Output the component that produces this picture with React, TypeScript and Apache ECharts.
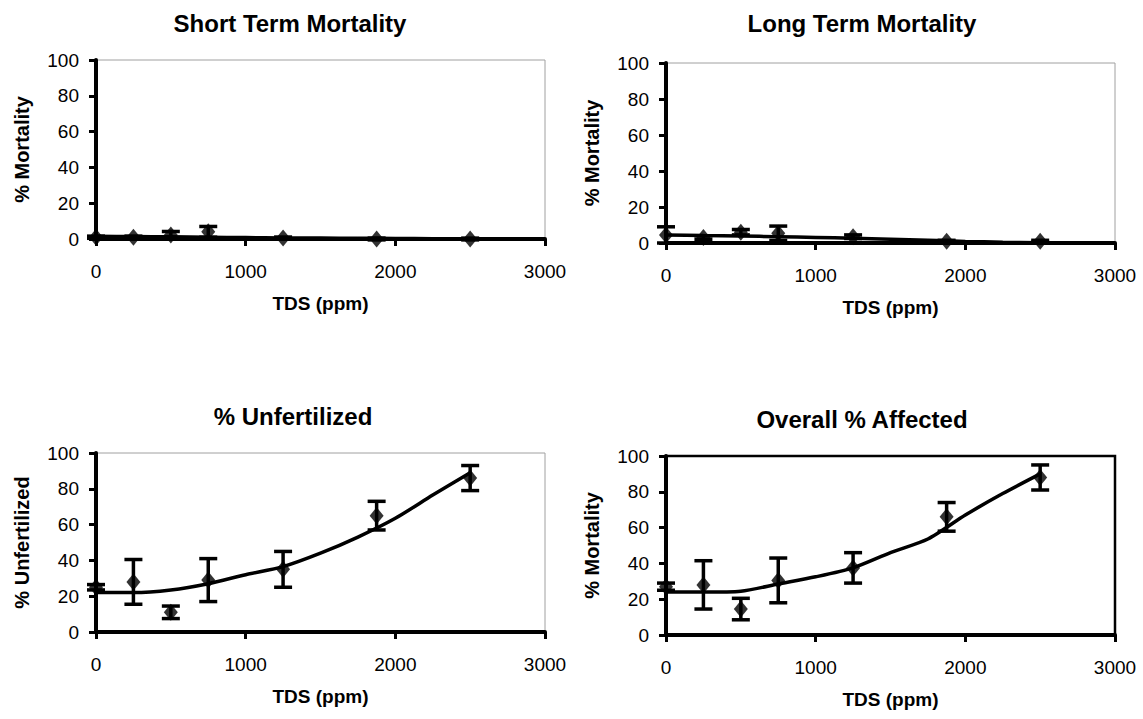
import React, { useEffect, useRef } from 'react';
import * as echarts from 'echarts';

// TDS concentrations (ppm) tested
const tdsLevels = [0, 250, 500, 750, 1250, 1875, 2500];
const trendTds = [0, 250, 500, 750, 1000, 1250, 1500, 1750, 2000, 2250, 2500];

// Short Term Mortality
const shortMean = [1, 1, 2.2, 4, 0.5, 0, 0];
const shortErr = [0.6, 0.6, 2, 3, 0.6, 0.5, 0.5];
const shortTrend = [1.5, 1.4, 1.2, 1.0, 0.8, 0.6, 0.5, 0.4, 0.3, 0.2, 0.1];

// Long Term Mortality
const longMean = [4.5, 3, 6, 5.4, 3.5, 1, 1];
const longErr = [4.5, 1, 1.5, 4, 1, 0.5, 0.5];
const longTrend = [4.5, 4.2, 3.9, 3.5, 3.1, 2.6, 2.1, 1.5, 0.9, 0.4, 0.1];

// % Unfertilized
const unfertMean = [25, 28, 11, 29, 35, 65, 86];
const unfertErr = [1.5, 12.5, 3.5, 12, 10, 8, 7];
const unfertTrend = [22, 22, 23.5, 27, 32, 36.5, 44, 53, 63.5, 76.5, 89];

// Overall % Affected
const overallMean = [27, 28, 14.5, 30.5, 37.5, 66, 88];
const overallErr = [2, 13.5, 6, 12.5, 8.5, 8, 7];
const overallTrend = [24, 24, 24.5, 28.5, 32.5, 37.5, 46, 53.6, 67, 79, 90];

const titles = ['Short Term Mortality', 'Long Term Mortality', '% Unfertilized', 'Overall % Affected'];
const yNames = ['% Mortality', '% Mortality', '% Unfertilized', '% Mortality'];
const xName = 'TDS (ppm)';

const FONT = '"Liberation Sans", Arial, sans-serif';

const App: React.FC = () => {
  const chartRef = useRef<HTMLDivElement>(null);

  useEffect(() => {
    if (!chartRef.current) return;
    const chart = echarts.init(chartRef.current, undefined, { renderer: 'svg' });

    const means = [shortMean, longMean, unfertMean, overallMean];
    const errs = [shortErr, longErr, unfertErr, overallErr];
    const trends = [shortTrend, longTrend, unfertTrend, overallTrend];

    // plot areas of the four panels
    const grids = [
      { left: 96, top: 60, width: 449, height: 179 },
      { left: 666, top: 63, width: 449, height: 180 },
      { left: 96, top: 453, width: 449, height: 179 },
      { left: 666, top: 456, width: 449, height: 179 }
    ];
    const titlePos = [
      [290, 23],
      [862, 23],
      [293, 416],
      [862, 419]
    ];

    const axisLine = { show: true, lineStyle: { color: '#000', width: 4 } };
    const axisTick = { show: true, length: 7, lineStyle: { color: '#000', width: 3 } };

    const errorBar = (params: any, api: any) => {
      const x = api.value(0);
      const top = api.coord([x, api.value(2)]);
      const bot = api.coord([x, api.value(1)]);
      const hw = 9;
      const style = { stroke: '#000', lineWidth: 3.5 };
      return {
        type: 'group',
        children: [
          { type: 'line', shape: { x1: top[0], y1: top[1], x2: bot[0], y2: bot[1] }, style },
          { type: 'line', shape: { x1: top[0] - hw, y1: top[1], x2: top[0] + hw, y2: top[1] }, style },
          { type: 'line', shape: { x1: bot[0] - hw, y1: bot[1], x2: bot[0] + hw, y2: bot[1] }, style }
        ]
      };
    };

    const series: any[] = [];
    means.forEach((m, i) => {
      series.push({
        type: 'line',
        xAxisIndex: i,
        yAxisIndex: i,
        data: trendTds.map((x, k) => [x, trends[i][k]]),
        showSymbol: false,
        smooth: 0.25,
        lineStyle: { color: '#000', width: 3.5 },
        z: 3
      });
      series.push({
        type: 'custom',
        xAxisIndex: i,
        yAxisIndex: i,
        renderItem: errorBar,
        data: tdsLevels.map((x, k) => [x, m[k] - errs[i][k], m[k] + errs[i][k]]),
        z: 4
      });
      series.push({
        type: 'scatter',
        xAxisIndex: i,
        yAxisIndex: i,
        data: tdsLevels.map((x, k) => [x, m[k]]),
        symbol: 'diamond',
        symbolSize: [14, 17],
        itemStyle: { color: '#000' },
        z: 5
      });
    });

    const option = {
      animation: false,
      backgroundColor: '#fff',
      textStyle: { fontFamily: FONT, color: '#000' },
      grid: grids.map((g, i) => ({
        ...g,
        show: true,
        backgroundColor: 'transparent',
        borderColor: i === 3 ? '#000' : '#a0a0a0',
        borderWidth: i === 3 ? 2.5 : 1
      })),
      xAxis: grids.map((_, i) => ({
        type: 'value',
        gridIndex: i,
        min: 0,
        max: 3000,
        interval: 1000,
        axisLine,
        axisTick,
        splitLine: { show: false },
        axisLabel: {
          fontSize: 19,
          color: '#000',
          fontFamily: FONT,
          margin: 23,
          formatter: (v: number) => String(v)
        },
        name: xName,
        nameLocation: 'middle',
        nameGap: 55,
        nameTextStyle: { fontSize: 19, fontWeight: 'bold', color: '#000', fontFamily: FONT }
      })),
      yAxis: grids.map((_, i) => ({
        type: 'value',
        gridIndex: i,
        min: 0,
        max: 100,
        interval: 20,
        axisLine,
        axisTick,
        splitLine: { show: false },
        axisLabel: { fontSize: 19, color: '#000', fontFamily: FONT, margin: 17 },
        name: yNames[i],
        nameLocation: 'middle',
        nameGap: 64,
        nameRotate: 90,
        nameTextStyle: { fontSize: 20, fontWeight: 'bold', color: '#000', fontFamily: FONT }
      })),
      graphic: titles.map((t, i) => ({
        type: 'text',
        x: titlePos[i][0],
        y: titlePos[i][1],
        style: {
          text: t,
          fill: '#000',
          font: `bold 24px ${FONT}`,
          textAlign: 'center',
          textVerticalAlign: 'middle'
        }
      })),
      series
    };

    chart.setOption(option);

    return () => {
      chart.dispose();
    };
  }, []);

  return (
    <div
      ref={chartRef}
      style={{ position: 'fixed', left: 0, top: 0, width: '1143px', height: '719px', background: '#fff' }}
    />
  );
};

export default App;
